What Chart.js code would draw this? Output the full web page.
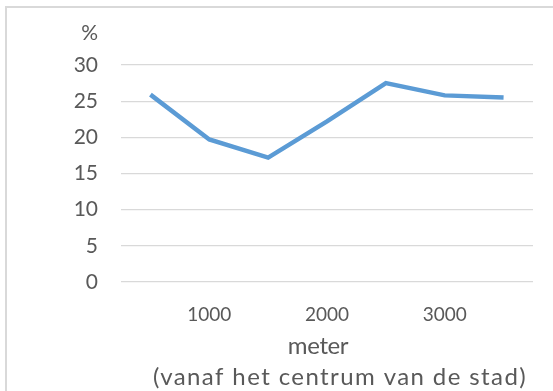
<!DOCTYPE html>
<html>
<head>
<meta charset="utf-8">
<script src="https://cdn.jsdelivr.net/npm/chart.js@4"></script>
<style>
  html, body { margin: 0; padding: 0; background: #fff; }
  #wrap { width: 553px; height: 391px; position: relative; }
</style>
</head>
<body>
<div id="wrap"><canvas id="c" width="553" height="391"></canvas></div>
<script>
const categories = [500, 1000, 1500, 2000, 2500, 3000, 3500];
const tickLabels = ['', '1000', '', '2000', '', '3000', ''];
const values = [25.9, 19.7, 17.2, 22.2, 27.5, 25.8, 25.5];
const yTitle = '%';
const xTitle = ['meter', '(vanaf het centrum van de stad)'];

const FONT = 'Lato, "Open Sans", sans-serif';
const TXT = '#595959';
const GRID = '#d9d9d9';

const extras = {
  id: 'extras',
  beforeDraw(chart) {
    const ctx = chart.ctx;
    ctx.save();
    ctx.strokeStyle = GRID;
    ctx.lineWidth = 2;
    ctx.beginPath();
    ctx.moveTo(6, 391);
    ctx.lineTo(6, 7);
    ctx.lineTo(553, 7);
    ctx.stroke();
    ctx.restore();
  },
  afterDraw(chart) {
    const ctx = chart.ctx;
    const ca = chart.chartArea;
    const cx = (ca.left + ca.right) / 2;
    ctx.save();
    ctx.fillStyle = TXT;
    ctx.font = '21px ' + FONT;
    ctx.textAlign = 'right';
    ctx.textBaseline = 'middle';
    ctx.fillText(yTitle, 98, 33);
    ctx.font = '24px ' + FONT;
    ctx.textAlign = 'center';
    ctx.textBaseline = 'alphabetic';
    ctx.letterSpacing = '-0.4px';
    ctx.fillText(xTitle[0], cx - 9, 354);
    ctx.letterSpacing = '1.4px';
    ctx.fillText(xTitle[1], cx + 13, 385);
    ctx.restore();
  }
};

new Chart(document.getElementById('c'), {
  type: 'line',
  data: {
    labels: categories,
    datasets: [{
      data: values,
      borderColor: '#5b9bd5',
      borderWidth: 4.5,
      pointRadius: 0,
      tension: 0,
      fill: false
    }]
  },
  options: {
    responsive: false,
    animation: false,
    plugins: { legend: { display: false }, tooltip: { enabled: false } },
    layout: { padding: { left: 0, top: 65, right: 20, bottom: 0 } },
    scales: {
      x: {
        offset: true,
        grid: { display: false, drawTicks: false },
        border: { display: false },
        ticks: {
          autoSkip: false, maxRotation: 0, padding: 21,
          color: TXT, font: { family: FONT, size: 19 },
          callback: (v, i) => tickLabels[i]
        },
        afterFit(s) { s.height = 391 - 65 - 217; }
      },
      y: {
        min: 0, max: 30,
        grid: { color: GRID, lineWidth: 1.3, drawTicks: false },
        border: { display: false },
        ticks: {
          stepSize: 5, padding: 23, color: TXT,
          font: { family: FONT, size: 21 }
        },
        afterFit(s) { s.width = 121; }
      }
    }
  },
  plugins: [extras]
});
</script>
</body>
</html>
